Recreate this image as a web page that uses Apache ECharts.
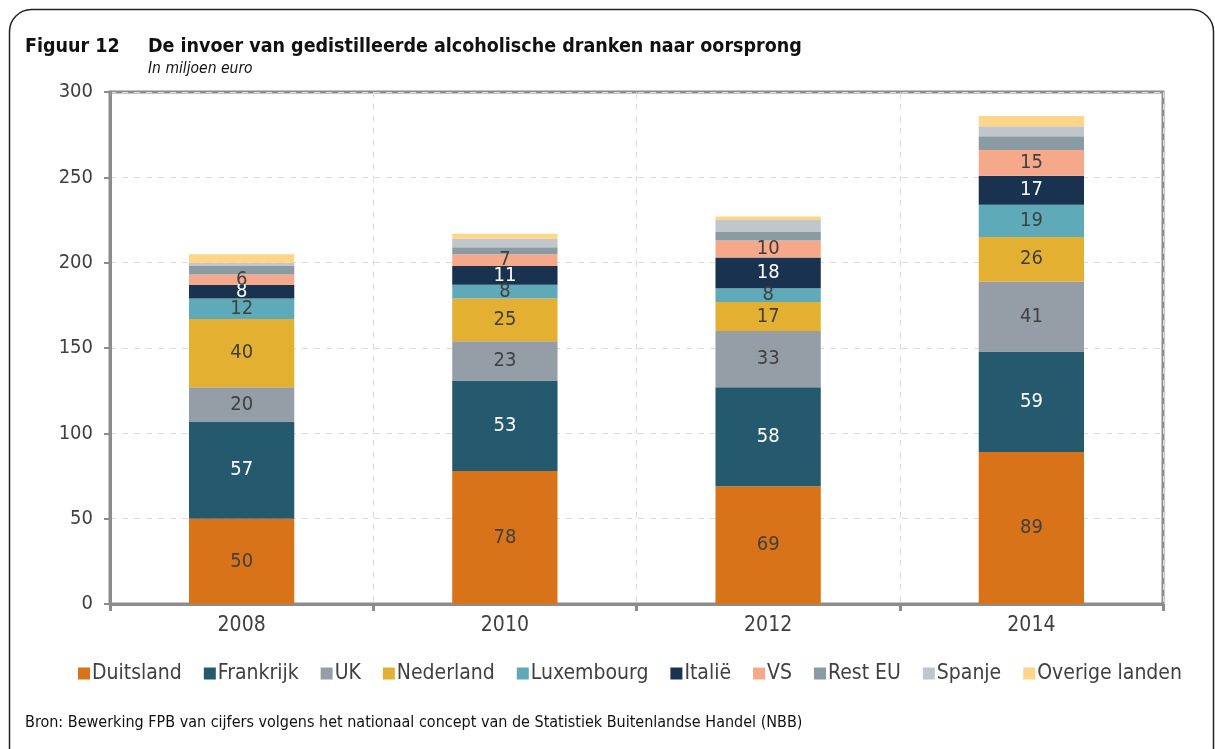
<!DOCTYPE html>
<html>
<head>
<meta charset="utf-8">
<script src="https://cdn.jsdelivr.net/npm/echarts@6/dist/echarts.min.js"></script>
<style>
  html, body { margin: 0; padding: 0; background: #fff; }
  #main { width: 1215px; height: 749px; }
</style>
</head>
<body>
<div id="main"></div>
<script>
var years = ['2008', '2010', '2012', '2014'];
var seriesNames = ['Duitsland', 'Frankrijk', 'UK', 'Nederland', 'Luxembourg', 'Italië', 'VS', 'Rest EU', 'Spanje', 'Overige landen'];
var duitsland = [50, 78, 69, 89];
var frankrijk = [57, 53, 58, 59];
var uk = [20, 23, 33, 41];
var nederland = [40, 25, 17, 26];
var luxembourg = [12, 8, 8, 19];
var italie = [8, 11, 18, 17];
var vs = [6, 7, 10, 15];
var restEu = [5, 4, 5, 8];
var spanje = [2, 5, 7, 6];
var overige = [5, 3, 2, 6];
var yTicks = [0, 50, 100, 150, 200, 250, 300];

var colors = ['#d9731a', '#255a6e', '#959da6', '#e3b032', '#5eaab8', '#18324f', '#f5a98a', '#8a9ba4', '#c0c6cc', '#ffd58a'];
var labelColors = ['#404040', '#ffffff', '#404040', '#404040', '#404040', '#ffffff', '#404040'];
var allData = [duitsland, frankrijk, uk, nederland, luxembourg, italie, vs, restEu, spanje, overige];
var font = '"DejaVu Sans Condensed", "Liberation Sans Narrow", sans-serif';

var chart = echarts.init(document.getElementById('main'));

var series = seriesNames.map(function (name, i) {
  return {
    name: name,
    type: 'bar',
    stack: 'totaal',
    barWidth: '40%',
    data: allData[i],
    itemStyle: { color: colors[i] },
    label: {
      show: i < 7,
      position: 'inside',
      color: labelColors[i] || '#404040',
      fontSize: 20,
      fontFamily: font
    }
  };
});

var option = {
  animation: false,
  color: colors,
  textStyle: { fontFamily: font },
  grid: {
    left: 110, right: 52, top: 92, bottom: 145,
    show: true, borderColor: '#8c8c8c', borderWidth: 3
  },
  legend: {
    data: seriesNames,
    bottom: 60,
    left: 73,
    icon: 'rect',
    itemWidth: 12,
    itemHeight: 12,
    itemGap: 22,
    textStyle: { fontSize: 21, color: '#404040', fontFamily: font, padding: [0, 0, 0, -3] }
  },
  xAxis: {
    type: 'category',
    data: years,
    axisLine: { lineStyle: { color: '#8c8c8c', width: 3 } },
    axisTick: { show: true, length: 7, lineStyle: { color: '#8c8c8c', width: 3 } },
    splitLine: { show: true, lineStyle: { color: '#dcdcdc', type: [6, 6], width: 1 } },
    axisLabel: { fontSize: 21, color: '#404040', margin: 11, fontFamily: font }
  },
  yAxis: {
    type: 'value',
    min: yTicks[0],
    max: yTicks[yTicks.length - 1],
    interval: 50,
    axisLine: { show: true, lineStyle: { color: '#8c8c8c', width: 3 } },
    axisTick: { show: true, length: 6, lineStyle: { color: '#8c8c8c', width: 2 } },
    splitLine: { show: true, lineStyle: { color: '#dcdcdc', type: [6, 6], width: 1 } },
    axisLabel: { fontSize: 20, color: '#404040', margin: 17, fontFamily: font }
  },
  graphic: [
    {
      type: 'rect',
      shape: { x: 9.5, y: 9.5, width: 1204, height: 760, r: 22 },
      style: { fill: 'none', stroke: '#222', lineWidth: 1.5 },
      silent: true
    },
    {
      type: 'text', left: 25, top: 37,
      style: { text: 'Figuur 12', font: 'bold 19.5px ' + font, fill: '#111' }
    },
    {
      type: 'text', left: 148, top: 37,
      style: { text: 'De invoer van gedistilleerde alcoholische dranken naar oorsprong', font: 'bold 19.5px ' + font, fill: '#111' }
    },
    {
      type: 'text', left: 148, top: 61,
      style: { text: 'In miljoen euro', font: 'italic 15.5px ' + font, fill: '#111' }
    },
    {
      type: 'text', left: 25, top: 715,
      style: { text: 'Bron: Bewerking FPB van cijfers volgens het nationaal concept van de Statistiek Buitenlandse Handel (NBB)', font: '16px ' + font, fill: '#111' }
    }
  ],
  series: series
};

chart.setOption(option);
</script>
</body>
</html>
